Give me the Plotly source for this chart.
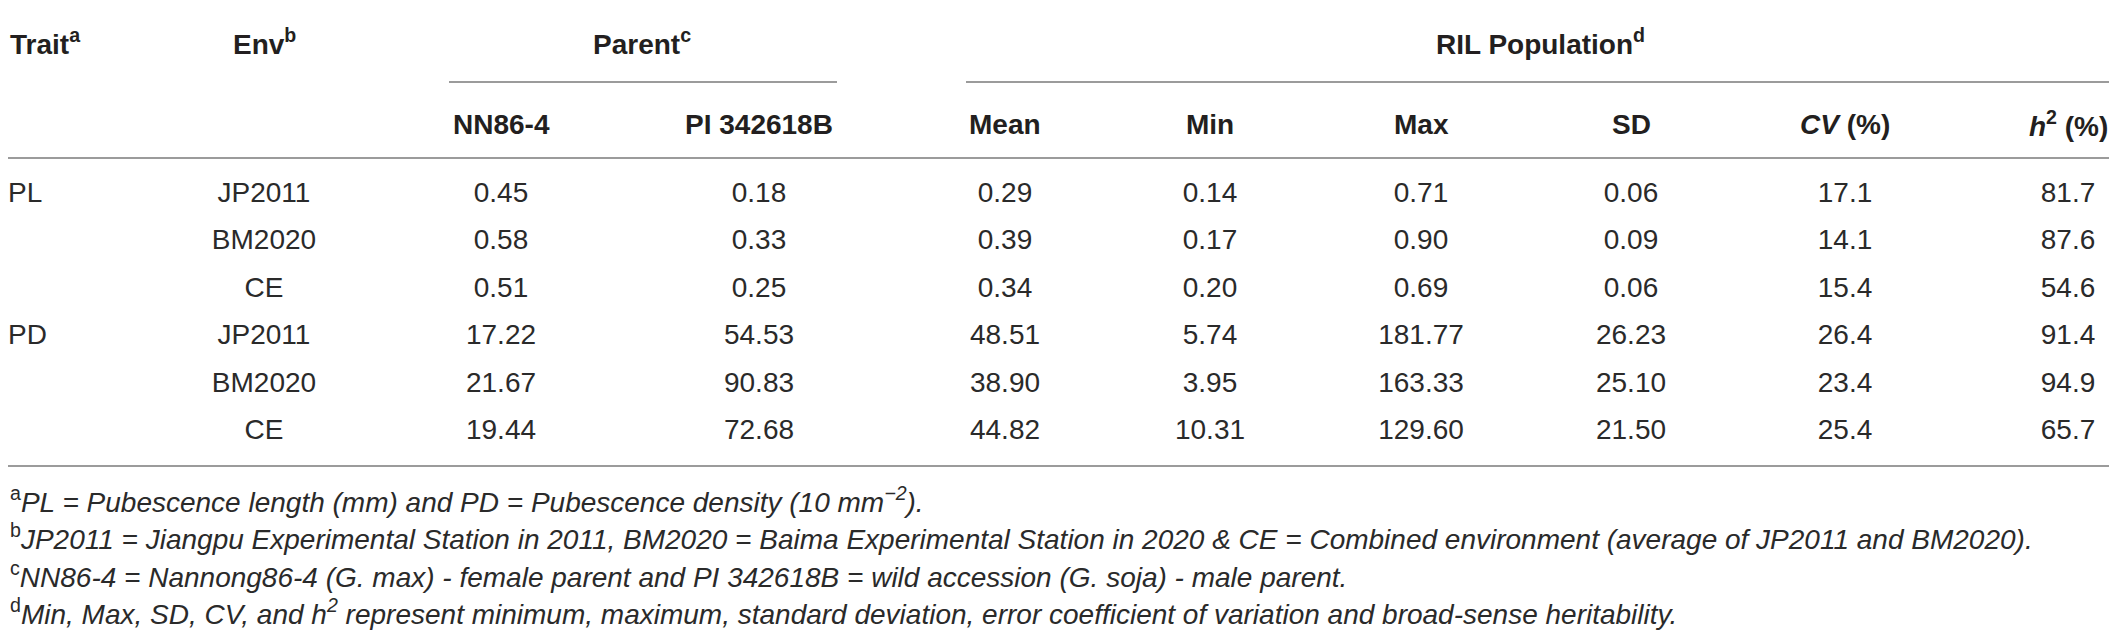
import plotly.graph_objects as go

# table content
traits = ["PL", "", "", "PD", "", ""]
envs = ["JP2011", "BM2020", "CE", "JP2011", "BM2020", "CE"]
nn86_4 = ["0.45", "0.58", "0.51", "17.22", "21.67", "19.44"]
pi_342618b = ["0.18", "0.33", "0.25", "54.53", "90.83", "72.68"]
mean = ["0.29", "0.39", "0.34", "48.51", "38.90", "44.82"]
min_ = ["0.14", "0.17", "0.20", "5.74", "3.95", "10.31"]
max_ = ["0.71", "0.90", "0.69", "181.77", "163.33", "129.60"]
sd = ["0.06", "0.09", "0.06", "26.23", "25.10", "21.50"]
cv = ["17.1", "14.1", "15.4", "26.4", "23.4", "25.4"]
h2 = ["81.7", "87.6", "54.6", "91.4", "94.9", "65.7"]

group_headers = ["Trait<sup>a</sup>", "Env<sup>b</sup>", "Parent<sup>c</sup>", "RIL Population<sup>d</sup>"]
col_headers = ["NN86-4", "PI 342618B", "Mean", "Min", "Max", "SD",
               "<i>CV</i> (%)", "<i>h</i><sup>2</sup> (%)"]

footnotes = [
    "<sup>a</sup><i>PL = Pubescence length (mm) and PD = Pubescence density (10 mm<sup>−2</sup>).</i>",
    "<sup>b</sup><i>JP2011 = Jiangpu Experimental Station in 2011, BM2020 = Baima Experimental Station "
    "in 2020 & CE = Combined environment (average of JP2011 and BM2020).</i>",
    "<sup>c</sup><i>NN86-4 = Nannong86-4 (G. max) - female parent and PI 342618B = wild accession "
    "(G. soja) - male parent.</i>",
    "<sup>d</sup><i>Min, Max, SD, CV, and h<sup>2</sup> represent minimum, maximum, standard deviation, "
    "error coefficient of variation and broad-sense heritability.</i>",
]

# layout: axes are in screen pixels (page body has an 8px margin)
W, H = 2117, 632
PAD = 8
FONT = "Liberation Sans, Arial, sans-serif"
TEXT = "#2a2a2a"
HEAD = "#231f20"
RULE = "#7a7a7a"
col_x = [264, 501, 759, 1005, 1210, 1421, 1631, 1845, 2068]
trait_x = 8
row0, row_h = 195, 47.4
head1_y, head2_y = 42, 124
foot0, foot_h = 500, 37.4
parent_x, ril_x = 642, 1540

columns = [envs, nn86_4, pi_342618b, mean, min_, max_, sd, cv, h2]
row_y = [row0 + i * row_h for i in range(len(envs))]

fig = go.Figure()

fig.add_trace(go.Scatter(
    x=[trait_x] * len(traits), y=row_y, text=traits, mode="text",
    textposition="middle right", textfont=dict(family=FONT, size=28, color=TEXT),
    hoverinfo="skip", showlegend=False))

for cx, vals in zip(col_x, columns):
    fig.add_trace(go.Scatter(
        x=[cx] * len(vals), y=row_y, text=vals, mode="text",
        textposition="middle center", textfont=dict(family=FONT, size=28, color=TEXT),
        hoverinfo="skip", showlegend=False))

annotations = []
head_font = dict(family=FONT, size=28, color=HEAD)
annotations.append(dict(x=trait_x, y=head1_y, text="<b>" + group_headers[0] + "</b>", xanchor="left"))
annotations.append(dict(x=col_x[0], y=head1_y, text="<b>" + group_headers[1] + "</b>", xanchor="center"))
annotations.append(dict(x=parent_x, y=head1_y, text="<b>" + group_headers[2] + "</b>", xanchor="center"))
annotations.append(dict(x=ril_x, y=head1_y, text="<b>" + group_headers[3] + "</b>", xanchor="center"))
for cx, lab in zip(col_x[1:], col_headers):
    annotations.append(dict(x=cx, y=head2_y, text="<b>" + lab + "</b>", xanchor="center"))
for a in annotations:
    a.update(xref="x", yref="y", yanchor="middle", showarrow=False, font=head_font)

for i, note in enumerate(footnotes):
    annotations.append(dict(x=PAD, y=foot0 + i * foot_h, text=note, xref="x", yref="y",
                            xanchor="left", yanchor="middle", showarrow=False,
                            font=dict(family=FONT, size=28, color=TEXT)))

rules = [(PAD, W, 6), (PAD, 2112, 158), (PAD, 2112, 466), (449, 837, 82), (966, 2111, 82)]
shapes = [dict(type="line", xref="x", yref="y", x0=a, x1=b, y0=y, y1=y,
               line=dict(color=RULE, width=1.6)) for a, b, y in rules]

fig.update_layout(
    width=W - PAD, height=H - PAD,
    margin=dict(l=0, r=0, t=0, b=0),
    paper_bgcolor="white", plot_bgcolor="white",
    xaxis=dict(range=[PAD, W], visible=False, fixedrange=True),
    yaxis=dict(range=[H, PAD], visible=False, fixedrange=True),
    annotations=annotations,
    shapes=shapes,
)

fig.write_html("out.html")
